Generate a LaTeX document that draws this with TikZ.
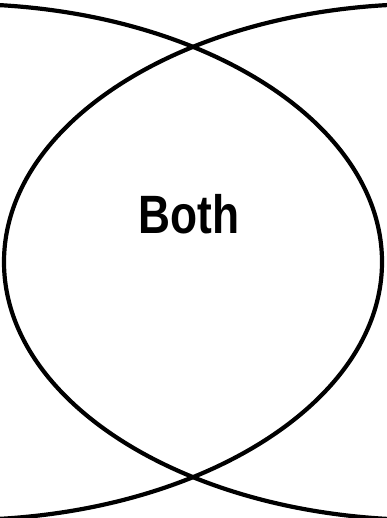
\documentclass[tikz,border=0pt]{standalone}
\usepackage{fontspec}
\setmainfont{Liberation Sans}
\tikzset{
  vennline/.style={line width=4.2pt, black},
  labeltext/.style={font=\bfseries\fontsize{54}{60}\selectfont, inner sep=0pt}
}
\begin{document}
\begin{tikzpicture}[x=1pt,y=1pt]
  \useasboundingbox (0,0) rectangle (387,518);
  \fill[white] (0,0) rectangle (387,518);
  \clip (0,0) rectangle (387,518);
  \draw[vennline] (-40,256) ellipse [x radius=422, y radius=258];
  \draw[vennline] (426,256) ellipse [x radius=422, y radius=258];
  \node[labeltext] (both) at (189,304) {\scalebox{0.82}[1]{Both}};
\end{tikzpicture}
\end{document}
